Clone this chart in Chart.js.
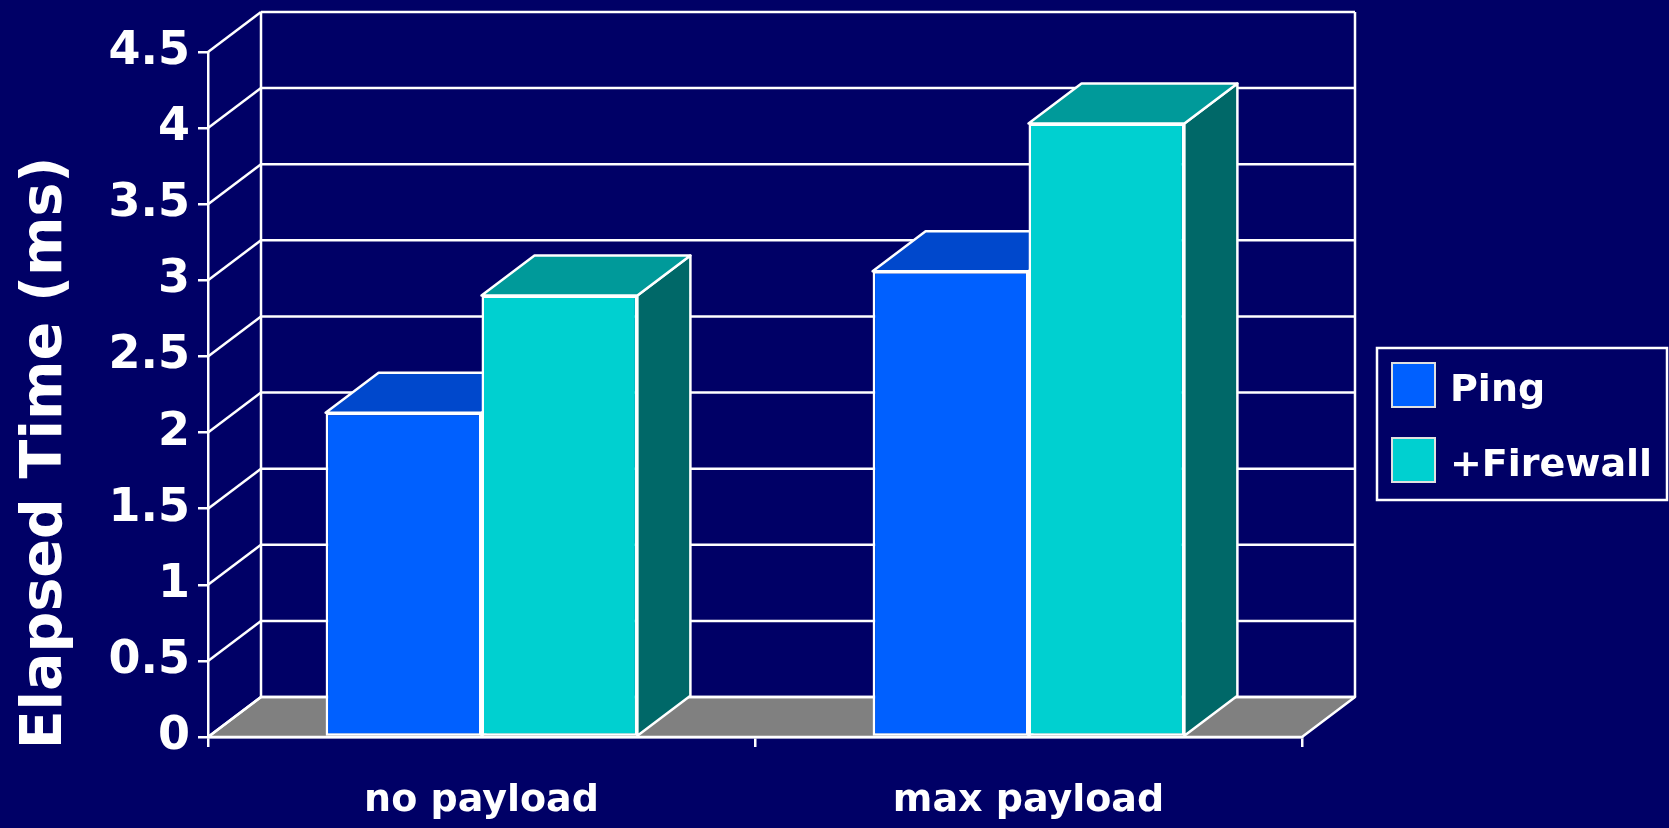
<!DOCTYPE html>
<html>
<head>
<meta charset="utf-8">
<title>Elapsed Time</title>
<script src="https://cdn.jsdelivr.net/npm/chart.js@4.4.1/dist/chart.umd.min.js"></script>
<style>
  html, body { margin: 0; padding: 0; background: #000066; }
  canvas { display: block; }
</style>
</head>
<body>
<canvas id="chart" width="1669" height="828"></canvas>
<script>
// --- Data ---
const categories = ['no payload', 'max payload'];
const seriesNames = ['Ping', '+Firewall'];
const pingTimes = [2.13, 3.06];
const firewallTimes = [2.90, 4.03];
const yTicks = [0, 0.5, 1, 1.5, 2, 2.5, 3, 3.5, 4, 4.5];
const yTitle = 'Elapsed Time (ms)';

// --- Look ---
const FONT = '"DejaVu Sans", sans-serif';
const LINE = 2.5;
const DX = 53, DY = 40;   // depth of the 3D box
const faces = [
  { front: '#0060FF', top: '#0048CC', side: '#0038A0' },
  { front: '#00D0D0', top: '#009A9A', side: '#006868' }
];

function poly(ctx, pts, fill) {
  ctx.beginPath();
  ctx.moveTo(pts[0][0], pts[0][1]);
  for (let i = 1; i < pts.length; i++) ctx.lineTo(pts[i][0], pts[i][1]);
  ctx.closePath();
  if (fill) { ctx.fillStyle = fill; ctx.fill(); }
  ctx.stroke();
}

function line(ctx, x1, y1, x2, y2) {
  ctx.beginPath();
  ctx.moveTo(x1, y1);
  ctx.lineTo(x2, y2);
  ctx.stroke();
}

// walls, floor, gridlines and the top/side faces of the bars
const box3d = {
  id: 'box3d',
  beforeDatasetsDraw(chart) {
    const { ctx, chartArea: a } = chart;
    const y = chart.scales.y;
    const y0 = y.getPixelForValue(0);
    const yTop = y.getPixelForValue(yTicks[yTicks.length - 1]);
    ctx.save();
    ctx.strokeStyle = '#ffffff';
    ctx.lineWidth = LINE;
    ctx.lineJoin = 'round';

    // floor
    poly(ctx, [[a.left, y0], [a.right, y0], [a.right + DX, y0 - DY], [a.left + DX, y0 - DY]], '#808080');

    // side wall diagonals + back wall gridlines
    yTicks.forEach(v => {
      const py = y.getPixelForValue(v);
      line(ctx, a.left, py, a.left + DX, py - DY);
      line(ctx, a.left + DX, py - DY, a.right + DX, py - DY);
    });
    line(ctx, a.left + DX, yTop - DY, a.left + DX, y0 - DY);
    line(ctx, a.right + DX, yTop - DY, a.right + DX, y0 - DY);

    // bar extrusions
    chart.data.datasets.forEach((ds, i) => {
      const f = faces[i];
      chart.getDatasetMeta(i).data.forEach(bar => {
        const l = bar.x - bar.width / 2, r = bar.x + bar.width / 2;
        const t = bar.y, b = bar.base;
        poly(ctx, [[r, t], [r + DX, t - DY], [r + DX, b - DY], [r, b]], f.side);
        poly(ctx, [[l, t], [r, t], [r + DX, t - DY], [l + DX, t - DY]], f.top);
      });
    });
    ctx.restore();
  },
  afterDraw(chart) {
    const ctx = chart.ctx;
    ctx.save();
    ctx.fillStyle = '#ffffff';

    // axis title
    ctx.translate(46, 453);
    ctx.rotate(-Math.PI / 2);
    ctx.font = 'bold 57px ' + FONT;
    ctx.textAlign = 'center';
    ctx.textBaseline = 'middle';
    ctx.fillText(yTitle, 0, 0);
    ctx.setTransform(1, 0, 0, 1, 0, 0);

    // legend
    ctx.strokeStyle = '#ffffff';
    ctx.lineWidth = LINE;
    ctx.strokeRect(1377, 348, 290, 152);
    ctx.font = 'bold 38px ' + FONT;
    ctx.textAlign = 'left';
    ctx.textBaseline = 'alphabetic';
    seriesNames.forEach((name, i) => {
      const top = 363 + i * 75;
      ctx.fillStyle = faces[i].front;
      ctx.fillRect(1392, top, 43, 44);
      ctx.strokeStyle = '#e0e0e0';
      ctx.lineWidth = 2;
      ctx.strokeRect(1392, top, 43, 44);
      ctx.fillStyle = '#ffffff';
      ctx.fillText(name, 1450, top + 38);
    });
    ctx.restore();
  }
};

new Chart(document.getElementById('chart'), {
  type: 'bar',
  data: {
    labels: categories,
    datasets: [
      { label: seriesNames[0], data: pingTimes, backgroundColor: faces[0].front },
      { label: seriesNames[1], data: firewallTimes, backgroundColor: faces[1].front }
    ]
  },
  options: {
    responsive: false,
    animation: false,
    layout: { padding: { left: 0, top: 52, right: 367, bottom: 0 } },
    datasets: {
      bar: {
        borderColor: '#ffffff',
        borderWidth: LINE,
        borderSkipped: false,
        barPercentage: 1,
        categoryPercentage: 0.57
      }
    },
    plugins: {
      legend: { display: false },
      tooltip: { enabled: false }
    },
    scales: {
      x: {
        afterFit: s => { s.height = 91; },
        grid: { display: true, drawOnChartArea: false, color: '#ffffff', lineWidth: LINE, tickLength: 10, offset: true },
        border: { display: true, color: '#ffffff', width: LINE },
        ticks: { color: '#ffffff', font: { family: FONT, size: 38, weight: 'bold' }, padding: 31 }
      },
      y: {
        min: 0,
        max: 4.5,
        afterFit: s => { s.width = 208; },
        afterBuildTicks: s => { s.ticks = yTicks.map(v => ({ value: v })); },
        grid: { display: true, drawOnChartArea: false, color: '#ffffff', lineWidth: LINE, tickLength: 10 },
        border: { display: true, color: '#ffffff', width: LINE },
        ticks: {
          color: '#ffffff',
          font: { family: FONT, size: 46, weight: 'bold' },
          padding: 8,
          callback: v => String(v)
        }
      }
    }
  },
  plugins: [box3d]
});
</script>
</body>
</html>
